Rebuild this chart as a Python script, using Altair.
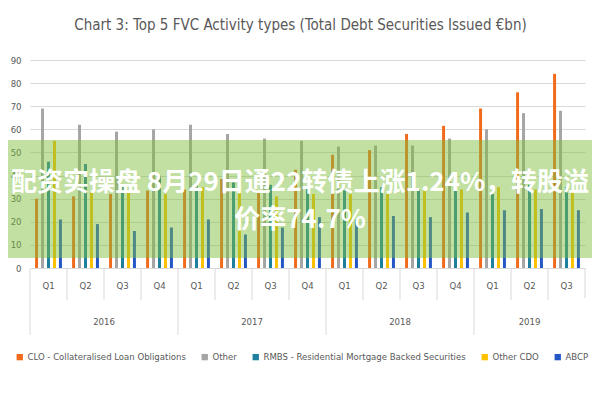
import altair as alt
import pandas as pd

# ---- data ----
quarters = ["Q1", "Q2", "Q3", "Q4", "Q1", "Q2", "Q3", "Q4", "Q1", "Q2", "Q3", "Q4", "Q1", "Q2", "Q3"]
years = ["2016"] * 4 + ["2017"] * 4 + ["2018"] * 4 + ["2019"] * 3
series_names = [
    "CLO - Collateralised Loan Obligations",
    "Other",
    "RMBS - Residential Mortgage Backed Securities",
    "Other CDO",
    "ABCP",
]
series_colors = ["#F26B1D", "#A5A5A5", "#1F7F9E", "#FFC000", "#2457C5"]

clo = [30, 31, 32, 33.5, 34, 38.5, 33.5, 42.5, 49, 51, 58, 61.5, 69, 76, 84]
other = [69, 62, 59, 60, 62, 58, 56, 55, 52.5, 53, 53, 56, 60, 67, 68]
rmbs = [46, 45, 35, 40, 37, 37, 36, 35, 34, 35, 34, 36, 32, 36, 35]
other_cdo = [55, 33, 33.5, 32, 35, 33.5, 31, 32, 32, 32, 33.5, 34, 35, 34, 33.5]
abcp = [21, 19, 16, 17.5, 21, 14.5, 17.5, 22, 21, 22.5, 22, 24, 25, 25.5, 25]

title_text = "Chart 3: Top 5 FVC Activity types (Total Debt Securities Issued €bn)"
banner_line1 = "配资实操盘 8月29日通22转债上涨1.24%，转股溢"
banner_line2 = "价率74.7%"

# ---- tables ----
period = [f"{y} {q}" for y, q in zip(years, quarters)]
rows = []
for name, vals in zip(series_names, [clo, other, rmbs, other_cdo, abcp]):
    for p, y, q, v in zip(period, years, quarters, vals):
        rows.append({"period": p, "year": y, "quarter": q, "series": name, "value": v})
df = pd.DataFrame(rows)
pdf = pd.DataFrame({"period": period, "year": years, "quarter": quarters, "idx": list(range(len(period)))})
one = pd.DataFrame({"a": [0]})

FONT = "Liberation Sans Narrow, DejaVu Sans Condensed, Roboto Condensed, Arial Narrow, sans-serif"
GRAY = "#595959"
LINE = "#d9d9d9"

xscale = alt.Scale(domain=period, paddingInner=0, paddingOuter=0)


def X(**kw):
    return alt.X("period:N", sort=period, scale=xscale, axis=None, **kw)


bars = alt.Chart(df).mark_bar().encode(
    x=X(),
    xOffset=alt.XOffset("series:N", sort=series_names,
                        scale=alt.Scale(domain=series_names, paddingInner=0.5, paddingOuter=0.85)),
    y=alt.Y("value:Q", scale=alt.Scale(domain=[0, 90]),
            axis=alt.Axis(values=list(range(0, 91, 10)), title=None, domain=False, ticks=False,
                          gridColor=LINE, labelColor=GRAY, labelFontSize=9.5, labelFont=FONT,
                          labelPadding=9)),
    color=alt.Color("series:N", scale=alt.Scale(domain=series_names, range=series_colors),
                    legend=alt.Legend(orient="none", legendX=-15, legendY=292, direction="horizontal",
                                      title=None, symbolType="square", symbolSize=40,
                                      symbolStrokeWidth=0, labelFontSize=9.5, labelColor=GRAY,
                                      labelFont=FONT, columnPadding=14, labelOffset=3,
                                      labelLimit=0)),
)

q_rules = alt.Chart(pdf).transform_filter("datum.quarter != 'Q1'").mark_rule(color=LINE).encode(
    x=X(bandPosition=0), y=alt.value(209), y2=alt.value(240))
y_rules = alt.Chart(pdf).transform_filter("datum.quarter == 'Q1'").mark_rule(color=LINE).encode(
    x=X(bandPosition=0), y=alt.value(209), y2=alt.value(275))
end_rule = alt.Chart(pdf).transform_filter(f"datum.idx == {len(period) - 1}").mark_rule(color=LINE).encode(
    x=X(bandPosition=1), y=alt.value(209), y2=alt.value(238))

q_text = alt.Chart(pdf).mark_text(fontSize=9.5, color=GRAY, font=FONT).encode(
    x=X(), y=alt.value(226), text="quarter:N")

y_text = alt.Chart(pdf).transform_calculate(c="datum.idx + 0.5").transform_aggregate(
    c="mean(c)", groupby=["year"]).mark_text(fontSize=9.5, color=GRAY, font=FONT).encode(
    x=alt.X("c:Q", scale=alt.Scale(domain=[0, len(period)]), axis=None),
    y=alt.value(262), text="year:N")

band = alt.Chart(one).mark_rect(color="#7DBE3C", opacity=0.48).encode(
    x=alt.value(-30), x2=alt.value(570), y=alt.value(80), y2=alt.value(198))

b1 = alt.Chart(one).mark_text(text=banner_line1, fontSize=26, fontWeight="bold", color="white",
                              font="Noto Sans CJK SC", align="center", baseline="middle").encode(
    x=alt.value(270), y=alt.value(123))
b2 = alt.Chart(one).mark_text(text=banner_line2, fontSize=26, fontWeight="bold", color="white",
                              font="Noto Sans CJK SC", align="center", baseline="middle").encode(
    x=alt.value(270), y=alt.value(160))

chart = alt.layer(bars, q_rules, y_rules, end_rule, q_text, y_text, band, b1, b2).resolve_scale(
    x="independent"
).properties(
    width=555, height=208,
    padding={"left": 22, "top": 52, "right": 7, "bottom": 124},
    autosize=alt.AutoSizeParams(type="none"),
    title=alt.Title(title_text, fontSize=15, color=GRAY, font=FONT, fontWeight="normal",
                    anchor="middle", dx=-7, offset=22),
).configure_view(stroke=None)

chart.save("out.html", embed_options={"renderer": "svg", "actions": False})
